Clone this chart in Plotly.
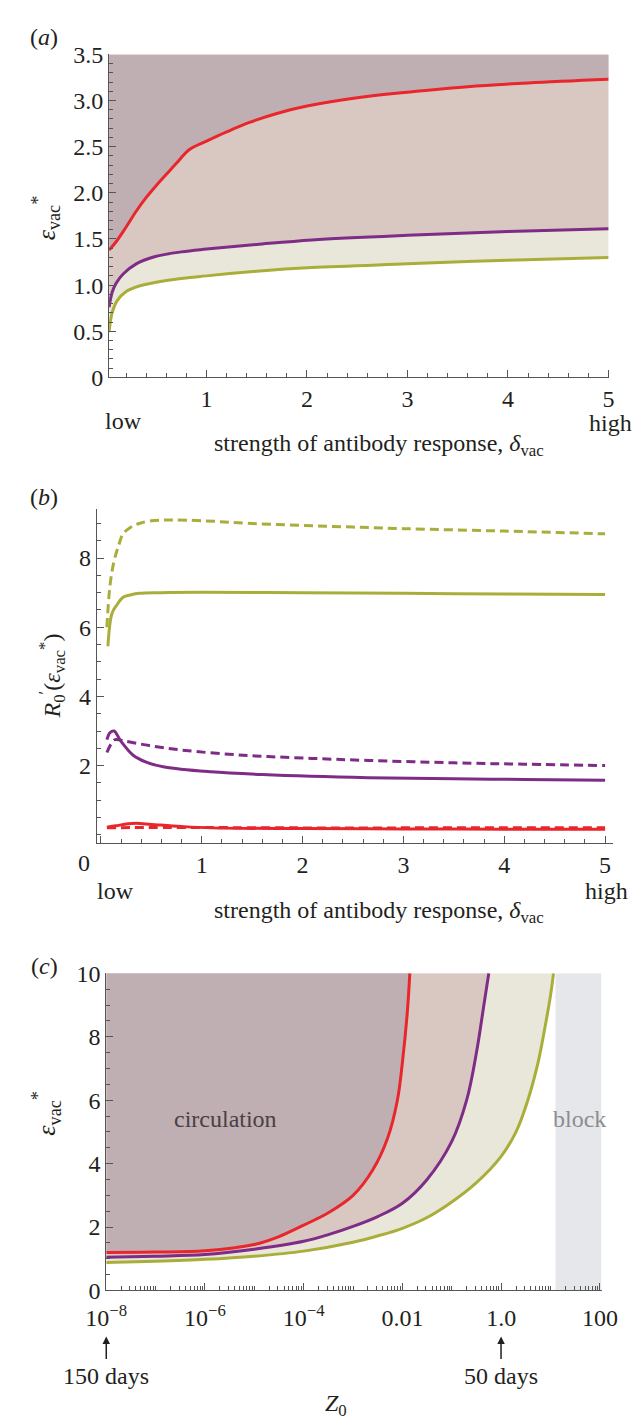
import plotly.graph_objects as go

# ---------------- data ----------------
# panel (a): threshold epsilon_vac* vs strength of antibody response
a_red_x = [0.03, 0.1, 0.2, 0.3, 0.4, 0.5, 0.6, 0.7, 0.83, 1.0, 1.2, 1.42, 1.7, 2.0, 2.5, 3.0, 3.6, 4.2, 5.0]
a_red_y = [1.38, 1.47, 1.63, 1.80, 1.95, 2.08, 2.2, 2.32, 2.47, 2.56, 2.66, 2.76, 2.86, 2.94, 3.03, 3.09, 3.15, 3.19, 3.23]
a_pur_x = [0.03, 0.06, 0.1, 0.17, 0.3, 0.49, 0.75, 1.0, 1.5, 2.05, 3.0, 4.0, 5.0]
a_pur_y = [0.76, 0.92, 1.02, 1.12, 1.23, 1.31, 1.36, 1.39, 1.44, 1.49, 1.54, 1.58, 1.61]
a_oli_x = [0.03, 0.06, 0.11, 0.2, 0.33, 0.6, 1.0, 1.5, 2.05, 3.0, 4.0, 5.0]
a_oli_y = [0.49, 0.7, 0.83, 0.93, 0.99, 1.05, 1.10, 1.15, 1.19, 1.23, 1.27, 1.30]

# panel (b): R0'(eps*) vs strength of antibody response (solid / dashed)
b_oli_dash_x = [0.06, 0.09, 0.13, 0.18, 0.22, 0.3, 0.38, 0.5, 0.69, 1.0, 1.5, 2.25, 3.0, 4.0, 5.0]
b_oli_dash_y = [6.0, 7.2, 7.9, 8.4, 8.7, 8.9, 9.0, 9.08, 9.1, 9.08, 9.0, 8.92, 8.85, 8.78, 8.7]
b_oli_x = [0.07, 0.11, 0.16, 0.22, 0.3, 0.38, 0.6, 1.0, 2.0, 3.0, 4.0, 5.0]
b_oli_y = [5.45, 6.4, 6.65, 6.87, 6.94, 6.98, 7.0, 7.01, 7.0, 6.98, 6.96, 6.95]
b_pur_dash_x = [0.06, 0.1, 0.14, 0.25, 0.48, 0.8, 1.41, 2.0, 2.65, 3.5, 4.2, 5.0]
b_pur_dash_y = [2.38, 2.62, 2.75, 2.7, 2.58, 2.45, 2.30, 2.22, 2.15, 2.08, 2.04, 2.0]
b_pur_x = [0.06, 0.09, 0.13, 0.2, 0.32, 0.45, 0.63, 1.09, 1.6, 2.65, 3.5, 4.2, 5.0]
b_pur_y = [2.75, 2.95, 3.0, 2.7, 2.3, 2.1, 1.96, 1.82, 1.74, 1.65, 1.62, 1.6, 1.58]
b_red_x = [0.06, 0.15, 0.25, 0.35, 0.5, 0.8, 1.1, 2.0, 3.0, 4.0, 5.0]
b_red_y = [0.22, 0.26, 0.31, 0.33, 0.3, 0.24, 0.2, 0.18, 0.17, 0.16, 0.16]
b_red_dash_x = [0.06, 0.3, 1.0, 2.0, 3.0, 4.0, 5.0]
b_red_dash_y = [0.2, 0.21, 0.21, 0.2, 0.2, 0.2, 0.2]

# panel (c): threshold epsilon_vac* vs initial Z0
c_red_x = [1e-8, 1e-7, 1e-6, 1e-5, 3.16e-5, 1e-4, 3.16e-4, 1e-3, 2.5e-3, 5e-3, 7.9e-3, 1e-2, 1.26e-2, 1.41e-2]
c_red_y = [1.2, 1.21, 1.25, 1.45, 1.7, 2.06, 2.45, 3.0, 3.8, 4.8, 6.0, 7.2, 8.8, 10]
c_pur_x = [1e-8, 1e-7, 1e-6, 1e-5, 1e-4, 3.16e-4, 1e-3, 3.16e-3, 1e-2, 3.16e-2, 0.1, 0.2, 0.316, 0.447, 0.562]
c_pur_y = [1.05, 1.08, 1.13, 1.3, 1.55, 1.76, 2.02, 2.33, 2.75, 3.5, 4.7, 6.0, 7.5, 9.0, 10]
c_oli_x = [1e-8, 1e-7, 1e-6, 1e-5, 1e-4, 1e-3, 3.16e-3, 1e-2, 3.16e-2, 0.1, 0.316, 1.0, 2.0, 3.47, 5.62, 7.94, 10.0, 11.5]
c_oli_y = [0.88, 0.92, 0.98, 1.08, 1.24, 1.52, 1.72, 1.96, 2.3, 2.79, 3.4, 4.23, 5.0, 6.0, 7.2, 8.4, 9.3, 10]
c_block = [12.6, 107.0]

a_yticks = [0, 0.5, 1.0, 1.5, 2.0, 2.5, 3.0, 3.5]
a_yticklabels = ["0", "0.5", "1.0", "1.5", "2.0", "2.5", "3.0", "3.5"]
c_xticks = [1e-8, 1e-6, 1e-4, 1e-2, 1, 100]
c_xticklabels = ["10<sup>−8</sup>", "10<sup>−6</sup>", "10<sup>−4</sup>", "0.01", "1.0", "100"]

# ---------------- style ----------------
RED = "#E8262B"
PUR = "#7E2C86"
OLI = "#A9AE3A"
F_TOP = "#BFAFB3"
F_MID = "#D9C8C2"
F_LOW = "#E9E7DA"
BLOCK = "#E6E7EB"
AXC = "#555555"
TXT = "#231F20"
FONT = "Liberation Serif"
FS = 24
W, H = 640, 1427
LW = 3


def px(x):
    return x / W


def py(y):
    return 1 - y / H


fig = go.Figure()

# panel (a) fills
A_TOP = 3.5
for xs, ys, col in [(a_oli_x, a_oli_y, F_LOW), (a_pur_x, a_pur_y, F_MID), (a_red_x, a_red_y, F_TOP)]:
    fig.add_trace(go.Scatter(x=xs + [xs[-1], xs[0]], y=ys + [A_TOP, A_TOP], fill="toself",
                             fillcolor=col, line=dict(width=0), mode="lines",
                             xaxis="x", yaxis="y", hoverinfo="skip", showlegend=False))
for xs, ys, col in [(a_oli_x, a_oli_y, OLI), (a_pur_x, a_pur_y, PUR), (a_red_x, a_red_y, RED)]:
    fig.add_trace(go.Scatter(x=xs, y=ys, mode="lines", line=dict(color=col, width=LW, shape="spline"),
                             xaxis="x", yaxis="y", showlegend=False))

# panel (b)
for xs, ys, col, dash in [
    (b_oli_dash_x, b_oli_dash_y, OLI, "9px,5px"), (b_oli_x, b_oli_y, OLI, "solid"),
    (b_pur_dash_x, b_pur_dash_y, PUR, "9px,5px"), (b_pur_x, b_pur_y, PUR, "solid"),
    (b_red_x, b_red_y, RED, "solid"), (b_red_dash_x, b_red_dash_y, RED, "9px,5px"),
]:
    fig.add_trace(go.Scatter(x=xs, y=ys, mode="lines",
                             line=dict(color=col, width=LW, dash=dash, shape="spline"),
                             xaxis="x2", yaxis="y2", showlegend=False))

# panel (c) fills
C_TOP = 10
for xs, ys, col in [(c_oli_x, c_oli_y, F_LOW), (c_pur_x, c_pur_y, F_MID), (c_red_x, c_red_y, F_TOP)]:
    fig.add_trace(go.Scatter(x=xs + [xs[0]], y=ys + [C_TOP], fill="toself",
                             fillcolor=col, line=dict(width=0), mode="lines",
                             xaxis="x3", yaxis="y3", hoverinfo="skip", showlegend=False))
for xs, ys, col in [(c_oli_x, c_oli_y, OLI), (c_pur_x, c_pur_y, PUR), (c_red_x, c_red_y, RED)]:
    fig.add_trace(go.Scatter(x=xs, y=ys, mode="lines", line=dict(color=col, width=LW, shape="spline"),
                             xaxis="x3", yaxis="y3", showlegend=False))

fig.add_shape(type="rect", xref="x3", yref="y3", x0=c_block[0], x1=c_block[1], y0=0, y1=C_TOP,
              fillcolor=BLOCK, line=dict(width=0), layer="below")

common = dict(showline=True, linecolor=AXC, linewidth=1, ticks="inside", ticklen=7, tickcolor=AXC,
              showgrid=False, zeroline=False, tickfont=dict(family=FONT, size=FS, color=TXT))

minor_x = dict(ticks="inside", ticklen=4, tickcolor=AXC, dtick=0.2, tick0=0, showgrid=False)
minor_y01 = dict(ticks="inside", ticklen=4, tickcolor=AXC, dtick=0.1, tick0=0, showgrid=False)
minor_y05 = dict(ticks="inside", ticklen=4, tickcolor=AXC, dtick=0.5, tick0=0, showgrid=False)

minor_log = []
for e in range(-8, 3):
    for m in range(1, 10):
        v = m * 10.0 ** e
        if v <= 100 and not (m == 1 and e % 2 == 0):
            minor_log.append(v)

fig.update_layout(
    width=W, height=H, margin=dict(l=0, r=0, t=0, b=0),
    paper_bgcolor="white", plot_bgcolor="rgba(0,0,0,0)",
    font=dict(family=FONT, size=FS, color=TXT),
    xaxis=dict(domain=[px(85), px(616)], range=[0.03, 5.01], tickmode="linear", tick0=0, dtick=1,
               minor=minor_x, anchor="y", **common),
    yaxis=dict(domain=[py(363), py(34)], range=[0, 3.5], tickmode="array", tickvals=a_yticks,
               ticktext=a_yticklabels, minor=minor_y01, anchor="x", **common),
    xaxis2=dict(domain=[px(72), px(620)], range=[-0.04, 5.08], tickmode="array",
                tickvals=[0, 1, 2, 3, 4, 5], ticktext=["", "1", "2", "3", "4", "5"],
                minor=minor_x, anchor="y2", **common),
    yaxis2=dict(domain=[py(837), py(497)], range=[-0.23, 9.42], tickmode="array",
                tickvals=[2, 4, 6, 8], ticktext=["2", "4", "6", "8"], minor=minor_y05, anchor="x2", **common),
    xaxis3=dict(domain=[px(82), px(608)], type="log", range=[-8, 2.04], tickmode="array",
                tickvals=c_xticks, ticktext=c_xticklabels, ticklabelstandoff=6,
                minor=dict(ticks="inside", ticklen=4, tickcolor=AXC, tickmode="array", tickvals=minor_log, showgrid=False),
                anchor="y3", **common),
    yaxis3=dict(domain=[py(1293), py(970)], range=[0, 10], tickmode="array",
                tickvals=[0, 2, 4, 6, 8, 10], ticktext=["0", "2", "4", "6", "8", "10"],
                minor=minor_y05, anchor="x3", **common),
)


def ann(text, x, y, size=FS, color=TXT, angle=0, xanchor="center"):
    fig.add_annotation(text=text, x=px(x), y=py(y), xref="paper", yref="paper", showarrow=False,
                       xanchor=xanchor, yanchor="middle", textangle=angle,
                       font=dict(family=FONT, size=size, color=color))


eps = "<i>ε</i><sub>vac</sub><sup>*</sup>"
xlab = "strength of antibody response, <i>δ</i><sub>vac</sub>"

ann("(<i>a</i>)", 16, 16)
ann("(<i>b</i>)", 16, 485)
ann("(<i>c</i>)", 16, 963)

ann(eps, 18, 200, size=26, angle=-90)
ann(xlab, 372, 432)
ann("low", 100, 407)
ann("high", 617, 409)

ann("<i>R</i><sub>0</sub><sup>′</sup>(" + eps + ")", 24, 667, angle=-90)
ann(xlab, 372, 908)
ann("low", 92, 886)
ann("high", 613, 886)
ann("0", 58, 858)

ann(eps, 18, 1112, size=26, angle=-90)
ann("circulation", 209, 1118, color="#4A3F44")
ann("block", 584, 1118, color="#8C8C8C")
ann("150 days", 82, 1380)
ann("50 days", 501, 1380)
ann("<i>Z</i><sub>0</sub>", 326, 1410)

for xpos in [82, 501]:
    fig.add_annotation(x=px(xpos), y=py(1340), xref="paper", yref="paper", ax=0, ay=24,
                       showarrow=True, arrowhead=2, arrowsize=1, arrowwidth=1.5, arrowcolor=TXT, text="")

fig.write_html("out.html")
